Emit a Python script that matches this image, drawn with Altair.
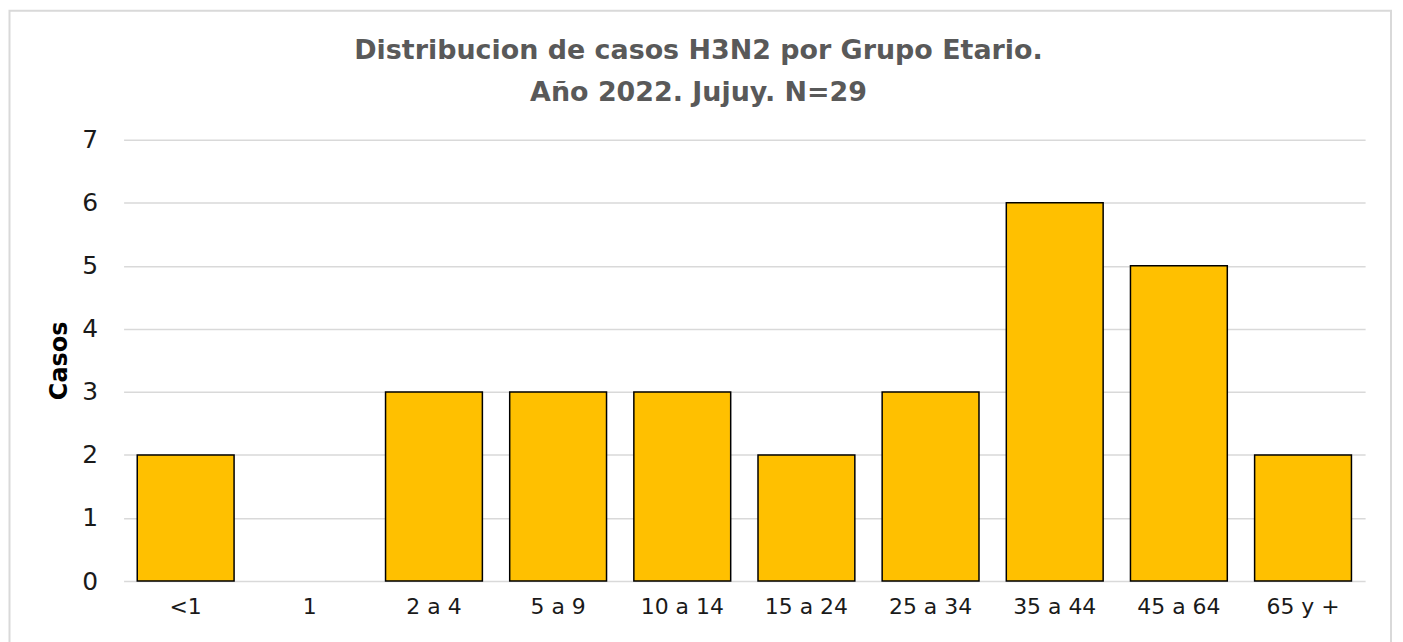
import altair as alt
import pandas as pd

grupos = ["<1", "1", "2 a 4", "5 a 9", "10 a 14", "15 a 24", "25 a 34", "35 a 44", "45 a 64", "65 y +"]
casos = [2, 0, 3, 3, 3, 2, 3, 6, 5, 2]
titulo = ["Distribucion de casos H3N2 por Grupo Etario.", "Año 2022. Jujuy. N=29"]
y_ticks = [0, 1, 2, 3, 4, 5, 6, 7]

df = pd.DataFrame({"grupo": grupos, "casos": casos})
FONT = "DejaVu Sans"
one = pd.DataFrame({"a": [0]})

frame = alt.Chart(one).mark_rect(
    filled=False, stroke="#d9d9d9", strokeWidth=2
).encode(
    x=alt.value(-114.5), x2=alt.value(1272), y=alt.value(-129.5), y2=alt.value(507)
)

title_txt = alt.Chart(one).mark_text(
    text=titulo, font=FONT, fontSize=27, fontWeight="bold", color="#595959",
    align="center", baseline="alphabetic", lineHeight=42
).encode(x=alt.value(577), y=alt.value(-81))

bars = alt.Chart(df).mark_bar(
    color="#FFC000", stroke="black", strokeWidth=1.5
).encode(
    x=alt.X("grupo:N", sort=grupos, title=None,
            scale=alt.Scale(paddingInner=0.22, paddingOuter=0.11),
            axis=alt.Axis(labelAngle=0, labelFontSize=22, labelFont=FONT,
                          labelColor="#1a1a1a", labelPadding=16, ticks=False,
                          domain=False, grid=False)),
    y=alt.Y("casos:Q", title="Casos",
            scale=alt.Scale(domain=[0, 7], nice=False),
            axis=alt.Axis(values=y_ticks, labelFontSize=25, labelFont=FONT,
                          labelColor="#1a1a1a", labelPadding=26, ticks=False,
                          domain=False, grid=True, gridColor="#d9d9d9",
                          gridWidth=1.5, titleFont=FONT, titleFontSize=24,
                          titleFontWeight="bold", titleColor="black",
                          titleX=-64, titleY=221.5, titleAngle=270,
                          titleAlign="center", titleBaseline="middle")),
    strokeOpacity=alt.condition("datum.casos == 0", alt.value(0), alt.value(1)),
)

chart = alt.layer(frame, title_txt, bars).properties(
    width=1246, height=443,
    padding={"left": 116, "top": 131, "right": 30, "bottom": 62},
    autosize=alt.AutoSizeParams(type="none"),
).configure_view(stroke=None)

chart.save("out.html", embed_options={"renderer": "svg", "actions": False})
